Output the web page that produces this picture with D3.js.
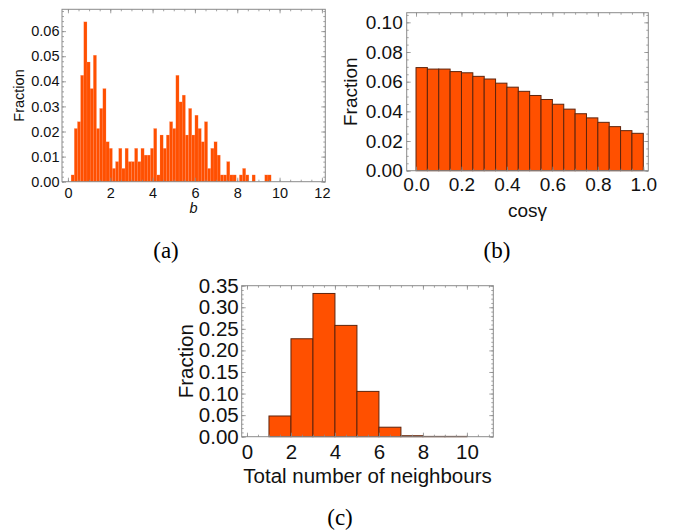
<!DOCTYPE html>
<html>
<head>
<meta charset="utf-8">
<script src="https://cdn.jsdelivr.net/npm/d3@7"></script>
<style>
  html, body { margin: 0; padding: 0; background: #fff; }
  svg { display: block; }
</style>
</head>
<body>
<svg id="chart" width="673" height="531"></svg>
<script>
// ---------- Data ----------
// (a) distribution of b, bins of width 0.15 starting at 0.15
const bBinStart = 0.15;
const bBinWidth = 0.15;
const bFractions = [
  0.0027,0.0212,0.0239,0.0424,0.0637,0.0477,0.0371,0.0504,0.0212,0.0292,
  0.0371,0.0159,0.0133,0.0053,0.0080,0.0133,0.0053,0.0133,0.0080,0.0080,
  0.0133,0.0080,0.0133,0.0106,0.0106,0.0133,0.0212,0.0027,0.0186,0.0133,
  0.0186,0.0239,0.0212,0.0424,0.0318,0.0345,0.0186,0.0292,0.0186,0.0265,
  0.0212,0.0159,0.0239,0.0053,0.0133,0.0159,0.0106,0.0027,0.0027,0.0080,
  0.0027,0.0027,0.0000,0.0027,0.0053,0.0027,0.0000,0.0027,0.0000,0.0000,
  0.0000,0.0027,0.0027
];
const bXTicks = [0, 2, 4, 6, 8, 10, 12];
const bYTicks = [0, 0.01, 0.02, 0.03, 0.04, 0.05, 0.06];

// (b) distribution of cos(gamma), bins of width 0.05 on [0,1]
const cosBinStart = 0;
const cosBinWidth = 0.05;
const cosFractions = [
  0.0695,0.0685,0.0685,0.0668,0.0660,0.0636,0.0618,0.0590,0.0563,0.0535,
  0.0507,0.0480,0.0448,0.0415,0.0384,0.0356,0.0326,0.0297,0.0270,0.0252
];
const cosXTicks = [0, 0.2, 0.4, 0.6, 0.8, 1.0];
const cosYTicks = [0, 0.02, 0.04, 0.06, 0.08, 0.10];

// (c) total number of neighbours, unit bins
const nbCategories = [1, 2, 3, 4, 5, 6, 7, 8, 9];
const nbFractions = [0.048, 0.227, 0.332, 0.258, 0.105, 0.022, 0.0022, 0.0007, 0.0007];
const nbXTicks = [0, 2, 4, 6, 8, 10];
const nbYTicks = [0, 0.05, 0.10, 0.15, 0.20, 0.25, 0.30, 0.35];

// ---------- Drawing ----------
const svg = d3.select("#chart");
svg.append("rect").attr("width", 673).attr("height", 531).attr("fill", "#fff");

const FILL = "#ff5000";
const FRAME = "#8a8a8a";
const TEXT = "#111";
const SANS = "'Liberation Sans', Arial, Helvetica, sans-serif";
const SERIF = "'Liberation Serif', 'Times New Roman', serif";

function range(a, b, step) {
  const out = [];
  const n = Math.round((b - a) / step);
  for (let i = 0; i <= n; i++) out.push(+(a + i * step).toFixed(6));
  return out;
}

function drawPanel(p) {
  const g = svg.append("g");
  const x = d3.scaleLinear().domain(p.xDom).range([p.left, p.right]);
  const y = d3.scaleLinear().domain(p.yDom).range([p.bottom, p.top]);

  // bars
  g.append("g").selectAll("rect").data(p.bars).join("rect")
    .attr("x", d => x(d.x0))
    .attr("width", d => x(d.x1) - x(d.x0))
    .attr("y", d => y(d.v))
    .attr("height", d => y(0) - y(d.v))
    .attr("fill", FILL)
    .attr("stroke", p.barStroke)
    .attr("stroke-width", p.barStrokeWidth)
    .attr("display", d => d.v > 0 ? null : "none");

  const inRange = (v, dom) => v >= dom[0] - 1e-9 && v <= dom[1] + 1e-9;
  const xMinor = range(p.xMinor[0], p.xMinor[1], p.xMinor[2]).filter(v => inRange(v, p.xDom));
  const yMinor = range(p.yMinor[0], p.yMinor[1], p.yMinor[2]).filter(v => inRange(v, p.yDom));

  function styleAxis(sel) {
    sel.select(".domain").remove();
    sel.selectAll(".tick line").attr("stroke", FRAME).attr("stroke-width", 0.8);
    sel.selectAll(".tick text").attr("fill", TEXT).style("font-family", SANS).style("font-size", p.fs + "px");
  }
  // minor ticks
  [["axisBottom", p.bottom, x, xMinor, "h"],
   ["axisTop", p.top, x, xMinor, "h"],
   ["axisLeft", p.left, y, yMinor, "v"],
   ["axisRight", p.right, y, yMinor, "v"]].forEach(([fn, pos, sc, vals, o]) => {
    const a = d3[fn](sc).tickValues(vals).tickSize(-2).tickFormat("");
    const t = o === "v" ? `translate(${pos},0)` : `translate(0,${pos})`;
    g.append("g").attr("transform", t).call(a).call(styleAxis);
  });
  // major ticks (labelled on bottom/left)
  g.append("g").attr("transform", `translate(0,${p.bottom})`)
    .call(d3.axisBottom(x).tickValues(p.xTicks).tickSize(-4).tickPadding(p.xPad).tickFormat(p.xFmt))
    .call(styleAxis);
  g.append("g").attr("transform", `translate(0,${p.top})`)
    .call(d3.axisTop(x).tickValues(p.xTicks).tickSize(-4).tickFormat(""))
    .call(styleAxis);
  g.append("g").attr("transform", `translate(${p.left},0)`)
    .call(d3.axisLeft(y).tickValues(p.yTicks).tickSize(-4).tickPadding(p.yPad).tickFormat(p.yFmt))
    .call(styleAxis);
  g.append("g").attr("transform", `translate(${p.right},0)`)
    .call(d3.axisRight(y).tickValues(p.yTicks).tickSize(-4).tickFormat(""))
    .call(styleAxis);

  // frame
  g.append("rect")
    .attr("x", p.left).attr("y", p.top)
    .attr("width", p.right - p.left).attr("height", p.bottom - p.top)
    .attr("fill", "none").attr("stroke", FRAME).attr("stroke-width", 1);

  // axis titles
  g.append("text")
    .attr("x", (p.left + p.right) / 2).attr("y", p.xTitleY)
    .attr("text-anchor", "middle")
    .style("font-family", SANS).style("font-size", p.fs + "px")
    .style("font-style", p.xTitleItalic ? "italic" : "normal")
    .attr("fill", TEXT)
    .text(p.xTitle);
  g.append("text")
    .attr("transform", `translate(${p.yTitleX},${(p.top + p.bottom) / 2}) rotate(-90)`)
    .attr("text-anchor", "middle")
    .style("font-family", SANS).style("font-size", p.fs + "px")
    .attr("fill", TEXT)
    .text("Fraction");

  // caption
  svg.append("text")
    .attr("x", p.capX).attr("y", p.capY)
    .attr("text-anchor", "middle")
    .style("font-family", SERIF).style("font-size", "23px")
    .attr("fill", "#000")
    .text(p.caption);
}

// (a)
drawPanel({
  left: 62, right: 325.3, top: 9.3, bottom: 181.7,
  xDom: [-0.28, 12.16], yDom: [0, 0.0687],
  bars: bFractions.map((v, i) => ({ x0: bBinStart + i * bBinWidth, x1: bBinStart + (i + 1) * bBinWidth, v })),
  barStroke: "rgba(255,150,115,0.55)", barStrokeWidth: 0.35,
  xTicks: bXTicks, yTicks: bYTicks,
  xMinor: [-0.5, 12.5, 0.5], yMinor: [0, 0.07, 0.002],
  xFmt: d3.format("d"), yFmt: d3.format(".2f"),
  fs: 14.5, xPad: 6, yPad: 2.5,
  xTitle: "b", xTitleItalic: true, xTitleY: 213, yTitleX: 24,
  caption: "(a)", capX: 166, capY: 258
});

// (b)
drawPanel({
  left: 406.7, right: 648.3, top: 12.7, bottom: 170.7,
  xDom: [-0.041, 1.022], yDom: [0, 0.1065],
  bars: cosFractions.map((v, i) => ({ x0: cosBinStart + i * cosBinWidth, x1: cosBinStart + (i + 1) * cosBinWidth, v })),
  barStroke: "#5e240c", barStrokeWidth: 1,
  xTicks: cosXTicks, yTicks: cosYTicks,
  xMinor: [0, 1.0, 0.05], yMinor: [0, 0.105, 0.005],
  xFmt: d3.format(".1f"), yFmt: d3.format(".2f"),
  fs: 19, xPad: 7, yPad: 4,
  xTitle: "cosγ", xTitleItalic: false, xTitleY: 217, yTitleX: 356.5,
  caption: "(b)", capX: 497, capY: 258
});

// (c)
drawPanel({
  left: 241.7, right: 493.3, top: 285.7, bottom: 436.7,
  xDom: [-0.24, 11.2], yDom: [0, 0.35],
  bars: nbCategories.map((c, i) => ({ x0: c, x1: c + 1, v: nbFractions[i] })),
  barStroke: "#5e240c", barStrokeWidth: 1,
  xTicks: nbXTicks, yTicks: nbYTicks,
  xMinor: [0, 11, 0.5], yMinor: [0, 0.35, 0.01],
  xFmt: d3.format("d"), yFmt: d3.format(".2f"),
  fs: 20.5, xPad: 7.5, yPad: 3,
  xTitle: "Total number of neighbours", xTitleItalic: false, xTitleY: 483, yTitleX: 193,
  caption: "(c)", capX: 340, capY: 525
});
</script>
</body>
</html>
